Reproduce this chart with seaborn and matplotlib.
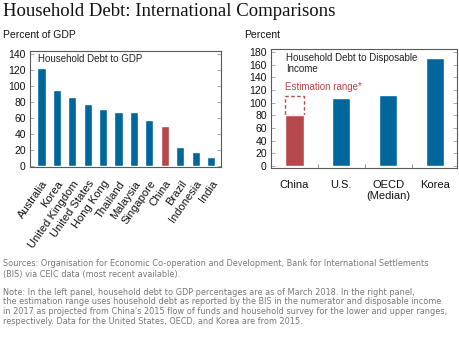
import matplotlib
matplotlib.use("Agg")
import matplotlib.pyplot as plt
import seaborn as sns
import pandas as pd

# ---- data ----
left_countries = ["Australia", "Korea", "United Kingdom", "United States", "Hong Kong",
                  "Thailand", "Malaysia", "Singapore", "China", "Brazil", "Indonesia", "India"]
left_values = [123, 95, 86, 77, 71, 68, 67, 58, 50, 24, 17, 11]

right_labels = ["China", "U.S.", "OECD\n(Median)", "Korea"]
right_values = [81, 108, 112, 170]
china_range_low = 81
china_range_high = 110

BLUE = "#00679C"
RED = "#B5484A"
GRAY_TXT = "#777777"
SPINE = "#5A5A5A"

sns.set_style("white")
plt.rcParams["font.family"] = ["Liberation Sans", "DejaVu Sans"]

W, H = 460, 339
fig = plt.figure(figsize=(W / 100, H / 100), dpi=100)

def axbox(l, t, r, b):
    return [l / W, 1 - b / H, (r - l) / W, (b - t) / H]

def style_axes(ax):
    for s in ax.spines.values():
        s.set_visible(True)
        s.set_color(SPINE)
        s.set_linewidth(0.8)
    ax.tick_params(axis="y", which="both", direction="in", left=True, right=True,
                   length=3, width=0.6, color="#999999", labelsize=7.5, pad=3,
                   labelcolor="#111111")

# ---- left panel ----
axL = fig.add_axes(axbox(30, 51, 221, 167))
dfL = pd.DataFrame({"country": left_countries, "value": left_values})
palL = {c: (RED if c == "China" else BLUE) for c in left_countries}
sns.barplot(data=dfL, x="country", y="value", hue="country", palette=palL,
            legend=False, width=0.53, saturation=1, ax=axL)
style_axes(axL)
axL.set_ylim(-1.5, 144)
axL.set_xlim(-0.75, 11.65)
axL.set_yticks(range(0, 141, 20))
axL.set_xlabel("")
axL.set_ylabel("")
axL.tick_params(axis="x", bottom=False, labelsize=8, pad=5, labelcolor="#111111")
plt.setp(axL.get_xticklabels(), rotation=55, ha="right", rotation_mode="anchor")
axL.text(0.04, 0.97, "Household Debt to GDP", transform=axL.transAxes,
         fontsize=7, va="top", ha="left", color="#222222")

# ---- right panel ----
axR = fig.add_axes(axbox(271, 49, 457, 168))
dfR = pd.DataFrame({"label": right_labels, "value": right_values})
palR = {l: (RED if l == "China" else BLUE) for l in right_labels}
axR.bar(0, china_range_high - china_range_low, bottom=china_range_low, width=0.39,
        fill=False, edgecolor=RED, linestyle=(0, (2.5, 1.8)), linewidth=1.0, zorder=1)
sns.barplot(data=dfR, x="label", y="value", hue="label", palette=palR,
            legend=False, width=0.39, saturation=1, ax=axR, zorder=2)
style_axes(axR)
axR.set_ylim(-3, 185)
axR.set_xlim(-0.5, 3.47)
axR.set_yticks(range(0, 181, 20))
axR.set_xlabel("")
axR.set_ylabel("")
axR.set_xticks([0.5, 1.5, 2.5], minor=True)
axR.tick_params(axis="x", which="major", bottom=False, labelsize=8, pad=5,
                labelcolor="#111111")
axR.tick_params(axis="x", which="minor", bottom=True, direction="in", length=3,
                width=0.6, color="#777777")
axR.text(0.079, 0.97, "Household Debt to Disposable\nIncome", transform=axR.transAxes,
         fontsize=7, va="top", ha="left", color="#222222", linespacing=1.15)
axR.text(-0.2, 117, "Estimation range*", fontsize=7, color=RED, ha="left", va="bottom")

# ---- titles / labels ----
fig.text(3 / W, 1 - 3 / H, "Household Debt: International Comparisons",
         fontsize=13.5, family=["Liberation Serif", "DejaVu Serif"], va="top", ha="left",
         color="#111111")
fig.text(3 / W, 1 - 30 / H, "Percent of GDP", fontsize=7.5, va="top", ha="left",
         color="#111111")
fig.text(244 / W, 1 - 30 / H, "Percent", fontsize=7.5, va="top", ha="left",
         color="#111111")

foot = [
    (264, "Sources: Organisation for Economic Co-operation and Development, Bank for International Settlements"),
    (274, "(BIS) via CEIC data (most recent available)."),
    (292.5, "Note: In the left panel, household debt to GDP percentages are as of March 2018. In the right panel,"),
    (302, "the estimation range uses household debt as reported by the BIS in the numerator and disposable income"),
    (311.5, "in 2017 as projected from China's 2015 flow of funds and household survey for the lower and upper ranges,"),
    (321, "respectively. Data for the United States, OECD, and Korea are from 2015."),
]
for y, t in foot:
    fig.text(3 / W, 1 - y / H, t, fontsize=5.9, family=["DejaVu Sans"], va="center",
             ha="left", color=GRAY_TXT)

fig.savefig("out.png", dpi=100)
